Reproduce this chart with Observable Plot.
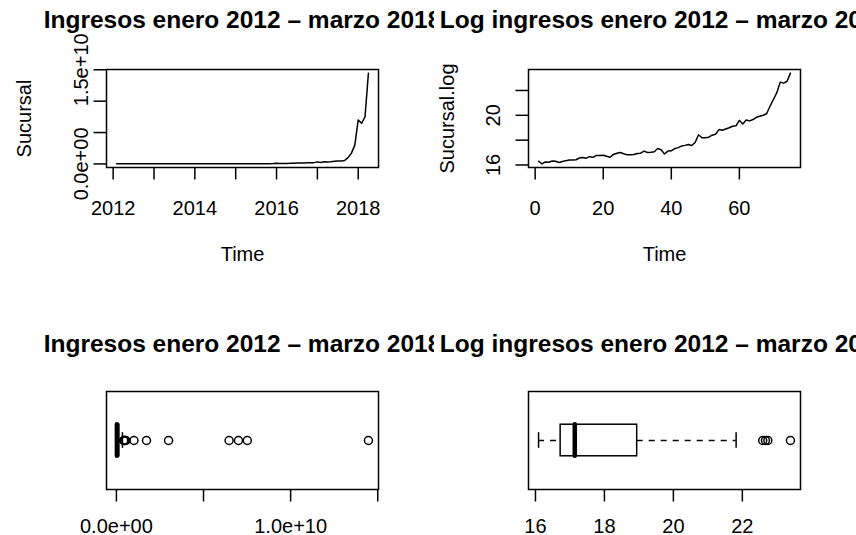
<!DOCTYPE html>
<html>
<head>
<meta charset="utf-8">
<script src="https://cdn.jsdelivr.net/npm/d3@7"></script>
<script src="https://cdn.jsdelivr.net/npm/@observablehq/plot@0.6"></script>
<style>
  body { margin: 0; background: #fff; }
  #fig { position: relative; width: 856px; height: 535px; overflow: hidden; background: #fff; }
  #fig > div { position: absolute; }
  #fig svg { display: block; }
</style>
</head>
<body>
<div id="fig"></div>
<script>
// Monthly log revenue of the branch ("Sucursal.log"), 75 months
const sucursalLog = [
  16.30, 16.09, 16.25, 16.22, 16.32, 16.30, 16.20, 16.28, 16.35, 16.40,
  16.40, 16.42, 16.56, 16.60, 16.55, 16.67, 16.62, 16.77, 16.76, 16.78,
  16.70, 16.62, 16.85, 16.95, 17.01, 16.90, 16.83, 16.82, 16.84, 16.93,
  16.95, 17.12, 17.01, 17.03, 17.07, 17.33, 17.23, 16.88, 17.12, 17.14,
  17.31, 17.40, 17.52, 17.58, 17.65, 17.57, 17.81, 18.43, 18.19, 18.20,
  18.24, 18.40, 18.48, 18.85, 18.80, 18.90, 19.00, 19.12, 19.15, 19.60,
  19.30, 19.62, 19.55, 19.66, 19.84, 19.92, 20.00, 20.12, 20.73, 21.27,
  21.82, 22.67, 22.59, 22.74, 23.395
];

// Revenue in currency units ("Sucursal")
const sucursal = sucursalLog.map(Math.exp);
// Time in decimal years for the monthly series
const tiempo = sucursalLog.map((_, i) => 2012 + (i + 1) / 12);
const indice = sucursalLog.map((_, i) => i + 1);

const titulo = "Ingresos enero 2012 \u2013 marzo 2018";
const tituloLog = "Log ingresos enero 2012 \u2013 marzo 2018";

// Axis ticks and which of them carry a label
const ticksTiempo = [2012, 2013, 2014, 2015, 2016, 2017, 2018];
const etiquetasTiempo = [2012, 2014, 2016, 2018];
const ticksIngreso = [0, 5e9, 1e10, 1.5e10];
const etiquetasIngresoY = [0, 1.5e10];
const etiquetasIngresoX = [0, 1e10];
const ticksIndice = [0, 20, 40, 60];
const ticksLog = [16, 18, 20, 22];
const etiquetasLogY = [16, 20];

const FONT = "'Liberation Sans', Arial, Helvetica, sans-serif";
const LW = 1.5;      // base line width
const TICK = 12.5;   // tick length
const FS = 20;       // axis text size
const FS_TITLE = 24.5;

// R-style axis range: data range widened by 4% on each side
function rango(v) {
  const [a, b] = d3.extent(v);
  const r = b - a;
  return [a - 0.04 * r, b + 0.04 * r];
}

// Scientific labels such as 0.0e+00, 1.5e+10
function sci(v) {
  if (v === 0) return "0.0e+00";
  const e = Math.floor(Math.log10(Math.abs(v)));
  const m = v / 10 ** e;
  return m.toFixed(1) + "e" + (e < 0 ? "-" : "+") + String(Math.abs(e)).padStart(2, "0");
}

// Tukey five-number summary and boxplot statistics (coef 1.5)
function fivenum(v) {
  const x = v.slice().sort((a, b) => a - b);
  const n = x.length;
  const n4 = Math.floor((n + 3) / 2) / 2;
  return [1, n4, (n + 1) / 2, n + 1 - n4, n].map(p => 0.5 * (x[Math.floor(p) - 1] + x[Math.ceil(p) - 1]));
}
function boxStats(v) {
  const [, q1, med, q3] = fivenum(v);
  const f = 1.5 * (q3 - q1);
  const inside = v.filter(d => d >= q1 - f && d <= q3 + f);
  return {
    q1, med, q3,
    lo: d3.min(inside), hi: d3.max(inside),
    out: v.filter(d => d < q1 - f || d > q3 + f)
  };
}

const fig = document.getElementById("fig");

function panel({left, top, width, height, margin, xDomain, yDomain, marks}) {
  const svg = Plot.plot({
    width, height,
    marginTop: margin[0], marginRight: margin[1], marginBottom: margin[2], marginLeft: margin[3],
    x: {domain: xDomain, axis: null},
    y: {domain: yDomain, axis: null},
    style: {fontFamily: FONT, fontSize: FS + "px", background: "transparent", overflow: "hidden", color: "black"},
    marks
  });
  const div = document.createElement("div");
  div.style.left = left + "px";
  div.style.top = top + "px";
  div.style.width = width + "px";
  div.style.height = height + "px";
  div.appendChild(svg);
  fig.appendChild(div);
}

function xAxis(ticks, labels, fmt, frameH, labelDy) {
  return [
    Plot.ruleX(ticks, {x: d => d, insetTop: frameH, insetBottom: -TICK, stroke: "black", strokeWidth: LW}),
    Plot.text(labels, {x: d => d, text: fmt, frameAnchor: "bottom", textAnchor: "middle", lineAnchor: "top", dy: labelDy, fontSize: FS, fill: "black"})
  ];
}
function yAxis(ticks, labels, fmt, frameW, labelDx) {
  return [
    Plot.ruleY(ticks, {y: d => d, insetLeft: -TICK, insetRight: frameW, stroke: "black", strokeWidth: LW}),
    Plot.text(labels, {y: d => d, text: fmt, frameAnchor: "left", textAnchor: "middle", rotate: -90, lineAnchor: "bottom", dx: labelDx, fontSize: FS, fill: "black"})
  ];
}
function title(t, dy) {
  return Plot.text([t], {frameAnchor: "top", textAnchor: "middle", lineAnchor: "bottom", dy, fontSize: FS_TITLE, fontWeight: "bold", fill: "black"});
}
function xTitle(t, dy) {
  return Plot.text([t], {frameAnchor: "bottom", textAnchor: "middle", lineAnchor: "bottom", dy, fontSize: FS, fill: "black"});
}
function yTitle(t, dx) {
  return Plot.text([t], {frameAnchor: "left", textAnchor: "middle", lineAnchor: "bottom", rotate: -90, dx, fontSize: FS, fill: "black"});
}

function boxMarks(s) {
  return [
    Plot.ruleY([0.5], {x1: s.lo, x2: s.q1, stroke: "black", strokeWidth: LW, strokeDasharray: "6,6"}),
    Plot.ruleY([0.5], {x1: s.q3, x2: s.hi, stroke: "black", strokeWidth: LW, strokeDasharray: "6,6"}),
    Plot.ruleX([s.lo, s.hi], {x: d => d, y1: 0.42, y2: 0.58, stroke: "black", strokeWidth: LW}),
    Plot.rect([s], {x1: "q1", x2: "q3", y1: 0.339, y2: 0.661, fill: "white", stroke: "black", strokeWidth: LW}),
    Plot.ruleX([s.med], {x: d => d, y1: 0.339, y2: 0.661, stroke: "black", strokeWidth: 4.5, strokeLinecap: "round"}),
    Plot.dot(s.out, {x: d => d, y: () => 0.5, r: 4, stroke: "black", strokeWidth: LW, fill: "none"})
  ];
}

const serie = sucursalLog.map((v, i) => ({t: tiempo[i], i: indice[i], raw: sucursal[i], log: v}));

// Top left: revenue over time
{
  const frameW = 272, frameH = 98;
  panel({
    left: 0, top: 0, width: 434, height: 267, margin: [69, 56, 100, 106],
    xDomain: rango(tiempo), yDomain: rango(sucursal),
    marks: [
      Plot.line(serie, {x: "t", y: "raw", stroke: "black", strokeWidth: LW}),
      Plot.frame({stroke: "black", strokeWidth: LW}),
      ...xAxis(ticksTiempo, etiquetasTiempo, d => String(d), frameH, 33),
      ...yAxis(ticksIngreso, etiquetasIngresoY, sci, frameW, -19),
      title(titulo, -42),
      xTitle("Time", 93),
      yTitle("Sucursal", -76)
    ]
  });
}

// Top right: log revenue by month index
{
  const frameW = 272, frameH = 98;
  panel({
    left: 428, top: 0, width: 428, height: 267, margin: [69, 56, 100, 100],
    xDomain: rango(indice), yDomain: rango(sucursalLog),
    marks: [
      Plot.line(serie, {x: "i", y: "log", stroke: "black", strokeWidth: LW}),
      Plot.frame({stroke: "black", strokeWidth: LW}),
      ...xAxis(ticksIndice, ticksIndice, d => String(d), frameH, 33),
      ...yAxis(ticksLog, etiquetasLogY, d => String(d), frameW, -28.7),
      title(tituloLog, -42),
      xTitle("Time", 93),
      yTitle("Sucursal.log", -75)
    ]
  });
}

// Bottom left: boxplot of revenue
{
  const frameH = 98;
  panel({
    left: 0, top: 267, width: 434, height: 268, margin: [124, 56, 46, 106],
    xDomain: rango(sucursal), yDomain: [0, 1],
    marks: [
      ...boxMarks(boxStats(sucursal)),
      Plot.frame({stroke: "black", strokeWidth: LW}),
      ...xAxis(ticksIngreso, etiquetasIngresoX, sci, frameH, 29.3),
      title(titulo, -39.3)
    ]
  });
}

// Bottom right: boxplot of log revenue
{
  const frameH = 98;
  panel({
    left: 428, top: 267, width: 428, height: 268, margin: [124, 56, 46, 100],
    xDomain: rango(sucursalLog), yDomain: [0, 1],
    marks: [
      ...boxMarks(boxStats(sucursalLog)),
      Plot.frame({stroke: "black", strokeWidth: LW}),
      ...xAxis(ticksLog, ticksLog, d => String(d), frameH, 29.3),
      title(tituloLog, -39.3)
    ]
  });
}
</script>
</body>
</html>
